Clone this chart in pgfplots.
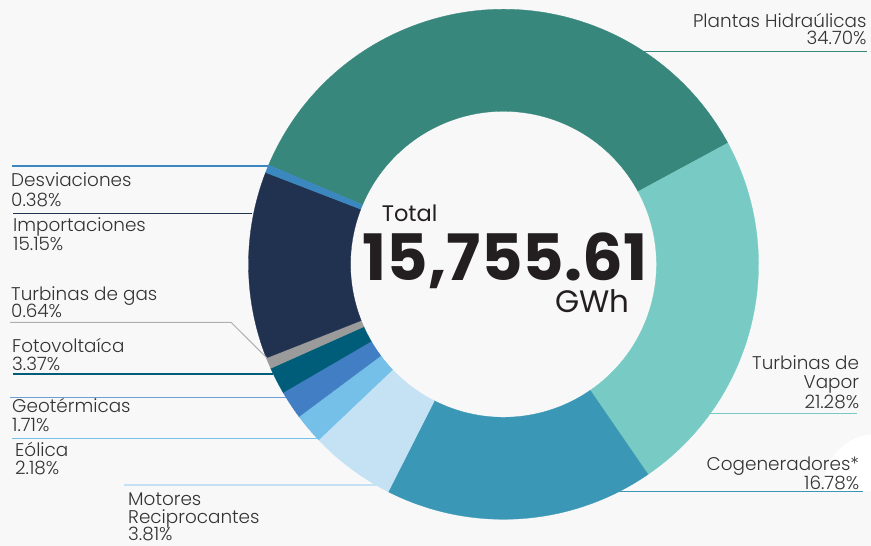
\documentclass[border=0pt]{standalone}
\usepackage{pgfplots}
\pgfplotsset{compat=1.18}
\usepackage{pgfplotstable}
\usepackage{fontspec}
\setmainfont{Poppins}
\newfontfamily\plight{Poppins Light}
\definecolor{bg}{HTML}{F8F8F8}
\definecolor{txt}{HTML}{333333}
\definecolor{dark}{HTML}{231F20}
\definecolor{cPlantas}{HTML}{37877C}
\definecolor{cVapor}{HTML}{77CBC4}
\definecolor{cCogen}{HTML}{3A97B5}
\definecolor{cMotores}{HTML}{C5E2F5}
\definecolor{cEolica}{HTML}{74C0E9}
\definecolor{cGeot}{HTML}{427EC3}
\definecolor{cFoto}{HTML}{005D7A}
\definecolor{cGas}{HTML}{9B9B9B}
\definecolor{cImport}{HTML}{213251}
\definecolor{cDesv}{HTML}{3B87C0}
% shares of the ring as drawn (percent of the full circle), clockwise
\pgfplotstableread[col sep=comma]{
name,share,color
Plantas Hidraulicas,35.75,cPlantas
Turbinas de Vapor,23.30,cVapor
Cogeneradores,17.05,cCogen
Motores Reciprocantes,5.45,cMotores
Eolica,1.90,cEolica
Geotermicas,1.80,cGeot
Fotovoltaica,1.70,cFoto
Turbinas de gas,0.70,cGas
Importaciones,11.85,cImport
Desviaciones,0.50,cDesv
}\slices
\newcommand\lf{\plight\fontsize{18.4bp}{21bp}\selectfont\color{txt}}
\begin{document}
\begin{tikzpicture}
\begin{axis}[scale only axis, width=871bp, height=546bp,
  xmin=0, xmax=871, ymin=0, ymax=546, y dir=reverse,
  hide axis, clip=false]
\pgfplotsextra{
  \fill[bg] (axis cs:0,0) rectangle (axis cs:871,546);
  \begin{scope}[overlay]
    \clip (axis cs:0,0) rectangle (axis cs:871,490);
    \fill[white] (axis cs:876,486) circle[radius=52bp];
  \end{scope}
  \begin{scope}[overlay]
  \pgfplotstablegetrowsof{\slices}
  \pgfmathtruncatemacro\N{\pgfplotsretval-1}
  \xdef\cum{0}
  \foreach \i in {0,...,\N}{
    \pgfplotstablegetelem{\i}{share}\of\slices \let\v\pgfplotsretval
    \pgfplotstablegetelem{\i}{color}\of\slices \let\c\pgfplotsretval
    \pgfmathsetmacro\aA{157.1-3.6*\cum}
    \pgfmathsetmacro\aB{\aA-3.6*\v}
    \pgfmathsetmacro\xA{503.5+255*cos(\aA)}
    \pgfmathsetmacro\yA{264.3-255*sin(\aA)}
    \pgfmathsetmacro\xB{503.5+153*cos(\aB)}
    \pgfmathsetmacro\yB{264.3-153*sin(\aB)}
    \filldraw[fill=\c, draw=\c, line width=0.3bp]
      (axis cs:\xA,\yA) arc[start angle=\aA, end angle=\aB, radius=255bp]
      -- (axis cs:\xB,\yB) arc[start angle=\aB, end angle=\aA, radius=153bp] -- cycle;
    \pgfmathsetmacro\newcum{\cum+\v}
    \xdef\cum{\newcum}
  }
  \end{scope}
  % leader lines
  \draw[cPlantas, line width=1.2bp] (axis cs:643,51.2) -- (axis cs:866.7,51.2);
  \draw[cVapor, line width=1.2bp] (axis cs:710,413.6) -- (axis cs:856.7,413.6);
  \draw[cCogen, line width=1.2bp] (axis cs:619,491.6) -- (axis cs:862.7,491.6);
  \draw[cDesv, line width=1.2bp] (axis cs:12,166) -- (axis cs:268,166);
  \draw[cImport, line width=1.2bp] (axis cs:13,213.3) -- (axis cs:252,213.3);
  \draw[cGas!80, line width=1bp] (axis cs:10,322.3) -- (axis cs:231,322.3) -- (axis cs:267,358);
  \draw[cFoto, line width=1.2bp] (axis cs:13,374) -- (axis cs:273,374);
  \draw[cGeot!75, line width=1.2bp] (axis cs:10,397.7) -- (axis cs:286,397.7);
  \draw[cEolica, line width=1.2bp] (axis cs:12,438.7) -- (axis cs:317.5,438.7);
  \draw[cMotores, line width=1.2bp] (axis cs:124,485) -- (axis cs:375.5,485);
  % labels left
  \tikzset{lw/.style={anchor=base west, inner sep=0pt, font=\lf}, le/.style={anchor=base east, inner sep=0pt, font=\lf}}
  \node[lw] at (axis cs:11,186) {Desviaciones};
  \node[lw] at (axis cs:11,206.7) {0.38\%};
  \node[lw] at (axis cs:13,231) {Importaciones};
  \node[lw] at (axis cs:13,250.7) {15.15\%};
  \node[lw] at (axis cs:11,300) {Turbinas de gas};
  \node[lw] at (axis cs:11,317.7) {0.64\%};
  \node[lw] at (axis cs:12,352.3) {Fotovoltaíca};
  \node[lw] at (axis cs:12,370) {3.37\%};
  \node[lw] at (axis cs:12,412.7) {Geotérmicas};
  \node[lw] at (axis cs:12,431.7) {1.71\%};
  \node[lw] at (axis cs:15,456) {Eólica};
  \node[lw] at (axis cs:15,474) {2.18\%};
  \node[lw] at (axis cs:128,505) {Motores};
  \node[lw] at (axis cs:128,523.3) {Reciprocantes};
  \node[lw] at (axis cs:128,540.7) {3.81\%};
  % labels right
  \node[le] at (axis cs:866.7,27.2) {Plantas Hidraúlicas};
  \node[le] at (axis cs:866.7,44.6) {34.70\%};
  \node[le] at (axis cs:859.3,369.8) {Turbinas de};
  \node[le] at (axis cs:859.3,388.2) {Vapor};
  \node[le] at (axis cs:859.3,408) {21.28\%};
  \node[le] at (axis cs:859.3,470.8) {Cogeneradores*};
  \node[le] at (axis cs:859.3,489.2) {16.78\%};
  % centre
  \node[anchor=base west, inner sep=0pt, font=\fontsize{22.5bp}{26bp}\selectfont\color{dark}] at (axis cs:381.7,221.7) {Total};
  \node[anchor=base west, inner sep=0pt, font=\bfseries\fontsize{64bp}{70bp}\selectfont\color{dark}] at (axis cs:362.7,280) {15,755.61};
  \node[anchor=base west, inner sep=0pt, font=\fontsize{31bp}{33bp}\selectfont\color{dark}] at (axis cs:555,312.7) {GWh};
}
\end{axis}
\end{tikzpicture}
\end{document}
